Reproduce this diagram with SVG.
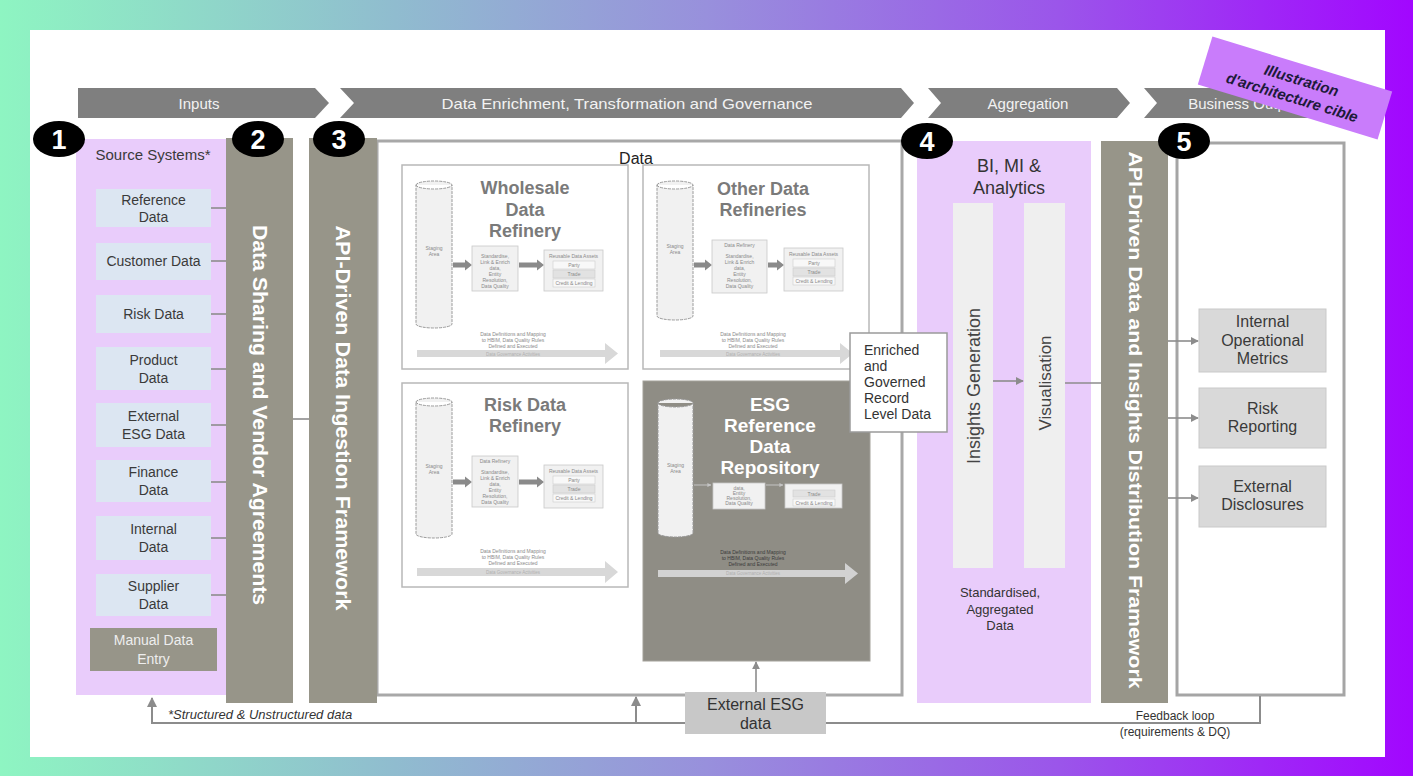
<svg xmlns="http://www.w3.org/2000/svg" width="1413" height="776" viewBox="0 0 1413 776">
<defs>
<linearGradient id="frame" x1="0" y1="0" x2="1413" y2="0" gradientUnits="userSpaceOnUse">
<stop offset="0" stop-color="#8ef5c2"/>
<stop offset="0.28" stop-color="#90bccf"/>
<stop offset="0.5" stop-color="#9890dc"/>
<stop offset="0.75" stop-color="#9b55ea"/>
<stop offset="1" stop-color="#a206ff"/>
</linearGradient>
<marker id="ah" viewBox="0 0 10 10" refX="9" refY="5" markerWidth="5" markerHeight="5" orient="auto-start-reverse" markerUnits="strokeWidth"><path d="M0,0 L10,5 L0,10 z" fill="#8c8c8c"/></marker>
<marker id="ahs" viewBox="0 0 10 10" refX="9" refY="5" markerWidth="4" markerHeight="4" orient="auto" markerUnits="strokeWidth"><path d="M0,0 L10,5 L0,10 z" fill="#c4c4c4"/></marker>
<style>
text{font-family:"Liberation Sans",Arial,Helvetica,sans-serif}
.hdr{fill:#7f7f7f}
.hdrt{fill:#f2f2f2;font-size:15px;text-anchor:middle}
.bar{fill:#979589}
.bart{fill:#ffffff;font-weight:bold;text-anchor:middle;dominant-baseline:central}
.lav{fill:#e9ccfb}
.src{fill:#dce6f2}
.srct{fill:#3a3a3a;font-size:14px;text-anchor:middle}
.num{fill:#000}
.numt{fill:#fff;font-weight:bold;font-size:27px;text-anchor:middle}
.ref{fill:#fff;stroke:#b8b8b8;stroke-width:1.5}
.reft{fill:#7a7a7a;font-weight:bold;font-size:18px;text-anchor:middle}
.cyl{fill:#f1f1f1;stroke:#9a9a9a;stroke-width:1;stroke-dasharray:3 1}
.mini{fill:#f1f1f1;stroke:#c8c8c8;stroke-width:0.8}
.row1{fill:#f8f8f8;stroke:#cccccc;stroke-width:0.6}
.row2{fill:#e2e2e2;stroke:#cccccc;stroke-width:0.6}
.tiny{fill:#8a8a8a;font-size:5px;text-anchor:middle}
.tinyd{fill:#3a3a3a;font-size:5px;text-anchor:middle}
.gov{fill:#d8d8d8}
.govt{fill:#b0b0b0;font-size:4.5px;text-anchor:middle}
.thk{fill:#8a8a8a}
.conn{stroke:#8c8c8c;stroke-width:1.6;fill:none}
.conn2{stroke:#8c8c8c;stroke-width:2;fill:none}
.body{fill:#333;font-size:14px}
.out{fill:#d9d9d9;stroke:#c9c9c9;stroke-width:1}
.outt{fill:#3a3a3a;font-size:16px;text-anchor:middle}
</style>
</defs>

<!-- frame -->
<rect x="0" y="0" width="1413" height="776" fill="url(#frame)"/>
<rect x="30" y="30" width="1355" height="727" fill="#ffffff"/>

<!-- header chevrons -->
<g id="header">
<polygon class="hdr" points="78,88 315,88 329,103 315,118 78,118"/>
<polygon class="hdr" points="340,88 901,88 914,103 901,118 340,118 354,103"/>
<polygon class="hdr" points="928,88 1117,88 1130,103 1117,118 928,118 941,103"/>
<polygon class="hdr" points="1144,88 1330,88 1343,103 1330,118 1144,118 1157,103"/>
<text class="hdrt" x="199" y="109">Inputs</text>
<text class="hdrt" x="627" y="109" textLength="371" lengthAdjust="spacingAndGlyphs">Data Enrichment, Transformation and Governance</text>
<text class="hdrt" x="1028" y="109">Aggregation</text>
<text class="hdrt" x="1247" y="109">Business Outputs</text>
</g>

<!-- section 1: source systems -->
<g id="source-systems">
<rect class="lav" x="76" y="139" width="152" height="556"/>
<text x="153" y="160" fill="#3a3a3a" font-size="15" text-anchor="middle">Source Systems*</text>
</g>
<g id="src-reference"><rect class="src" x="96" y="189" width="115" height="38"/><text class="srct" x="153.5" y="204.5">Reference</text><text class="srct" x="153.5" y="221.5">Data</text></g>
<g id="src-customer"><rect class="src" x="96" y="243" width="115" height="37"/><text class="srct" x="153.5" y="265.5" font-size="11.5">Customer Data</text></g>
<g id="src-risk"><rect class="src" x="96" y="295" width="115" height="38"/><text class="srct" x="153.5" y="319">Risk Data</text></g>
<g id="src-product"><rect class="src" x="96" y="347" width="115" height="43"/><text class="srct" x="153.5" y="365">Product</text><text class="srct" x="153.5" y="383">Data</text></g>
<g id="src-external-esg"><rect class="src" x="96" y="403" width="115" height="44"/><text class="srct" x="153.5" y="421">External</text><text class="srct" x="153.5" y="439">ESG Data</text></g>
<g id="src-finance"><rect class="src" x="96" y="460" width="115" height="42"/><text class="srct" x="153.5" y="477">Finance</text><text class="srct" x="153.5" y="495">Data</text></g>
<g id="src-internal"><rect class="src" x="96" y="516" width="115" height="44"/><text class="srct" x="153.5" y="534">Internal</text><text class="srct" x="153.5" y="552">Data</text></g>
<g id="src-supplier"><rect class="src" x="96" y="574" width="115" height="42"/><text class="srct" x="153.5" y="591">Supplier</text><text class="srct" x="153.5" y="609">Data</text></g>
<g id="src-manual"><rect class="bar" x="90" y="628" width="127" height="43"/><text class="srct" x="153.5" y="645" style="fill:#eeeeee">Manual Data</text><text class="srct" x="153.5" y="664" style="fill:#eeeeee">Entry</text></g>

<!-- section 2 bar -->
<g id="data-sharing">
<rect class="bar" x="226" y="138" width="67" height="565"/>
<text class="bart" transform="translate(260,415) rotate(90)" font-size="20" textLength="380" lengthAdjust="spacingAndGlyphs" x="0" y="0">Data Sharing and Vendor Agreements</text>
</g>

<!-- data container -->
<g id="data-container">
<rect x="377" y="141" width="525" height="554" fill="#ffffff" stroke="#a8a8a8" stroke-width="3"/>
<text x="636" y="164" fill="#222" font-size="16" text-anchor="middle">Data</text>
</g>

<!-- section 3 bar -->
<g id="ingestion">
<rect class="bar" x="309" y="138" width="68" height="565"/>
<text class="bart" transform="translate(343,418) rotate(90)" font-size="20" textLength="385" lengthAdjust="spacingAndGlyphs" x="0" y="0">API-Driven Data Ingestion Framework</text>
</g>

<!-- Wholesale -->
<g id="wholesale-refinery">
<rect class="ref" x="402" y="165" width="226" height="204"/>
<path class="cyl" d="M416,185 A18,4 0 0 1 452,185 V324 A18,4 0 0 1 416,324 Z M416,185 A18,4 0 0 0 452,185"/>
<text class="tiny" x="434" y="250">Staging</text><text class="tiny" x="434" y="256">Area</text>
<text class="reft" x="525" y="194">Wholesale</text>
<text class="reft" x="525" y="216">Data</text>
<text class="reft" x="525" y="237">Refinery</text>
<polygon class="thk" points="453,262.5 465,262.5 465,259.5 472,265 465,270.5 465,267.5 453,267.5"/>
<rect class="mini" x="472" y="246" width="46" height="45"/>
<text class="tiny" x="495" y="258">Standardise,</text><text class="tiny" x="495" y="264">Link &amp; Enrich</text><text class="tiny" x="495" y="270">data,</text><text class="tiny" x="495" y="276">Entity</text><text class="tiny" x="495" y="282">Resolution,</text><text class="tiny" x="495" y="288">Data Quality</text>
<polygon class="thk" points="519,262.5 537,262.5 537,259.5 544,265 537,270.5 537,267.5 519,267.5"/>
<rect class="mini" x="544" y="250" width="59" height="41"/>
<text class="tiny" x="573.5" y="258" font-size="4.5">Reusable Data Assets</text>
<rect class="row1" x="553" y="261" width="42" height="8"/><rect class="row2" x="553" y="270" width="42" height="8"/><rect class="row1" x="553" y="279" width="42" height="8"/>
<text class="tiny" x="574" y="267" font-size="4.5">Party</text><text class="tiny" x="574" y="276" font-size="4.5">Trade</text><text class="tiny" x="574" y="285" font-size="4.5">Credit &amp; Lending</text>
<text class="tiny" x="513" y="336">Data Definitions and Mapping</text><text class="tiny" x="513" y="342">to HBIM, Data Quality Rules</text><text class="tiny" x="513" y="348">Defined and Executed</text>
<polygon class="gov" points="417,350 605,350 605,343 618,353.5 605,364 605,357 417,357"/>
<text class="govt" x="513" y="355.5">Data Governance Activities</text>
</g>

<!-- Other -->
<g id="other-refineries">
<rect class="ref" x="643" y="165" width="226" height="204"/>
<path class="cyl" d="M657,185 A18,4 0 0 1 693,185 V316 A18,4 0 0 1 657,316 Z M657,185 A18,4 0 0 0 693,185"/>
<text class="tiny" x="675" y="248">Staging</text><text class="tiny" x="675" y="254">Area</text>
<text class="reft" x="763" y="195">Other Data</text>
<text class="reft" x="763" y="216">Refineries</text>
<polygon class="thk" points="694,262.5 705,262.5 705,259.5 712,265 705,270.5 705,267.5 694,267.5"/>
<rect class="mini" x="712" y="240" width="55" height="53"/>
<text class="tiny" x="739.5" y="247">Data Refinery</text>
<text class="tiny" x="739.5" y="258">Standardise,</text><text class="tiny" x="739.5" y="264">Link &amp; Enrich</text><text class="tiny" x="739.5" y="270">data,</text><text class="tiny" x="739.5" y="276">Entity</text><text class="tiny" x="739.5" y="282">Resolution,</text><text class="tiny" x="739.5" y="288">Data Quality</text>
<polygon class="thk" points="768,262.5 777,262.5 777,259.5 784,265 777,270.5 777,267.5 768,267.5"/>
<rect class="mini" x="784" y="248" width="59" height="43"/>
<text class="tiny" x="813.5" y="256" font-size="4.5">Reusable Data Assets</text>
<rect class="row1" x="793" y="259" width="42" height="8"/><rect class="row2" x="793" y="268" width="42" height="8"/><rect class="row1" x="793" y="277" width="42" height="8"/>
<text class="tiny" x="814" y="265" font-size="4.5">Party</text><text class="tiny" x="814" y="274" font-size="4.5">Trade</text><text class="tiny" x="814" y="283" font-size="4.5">Credit &amp; Lending</text>
<text class="tiny" x="753" y="336">Data Definitions and Mapping</text><text class="tiny" x="753" y="342">to HBIM, Data Quality Rules</text><text class="tiny" x="753" y="348">Defined and Executed</text>
<polygon class="gov" points="660,350 840,350 840,343 853,353.5 840,364 840,357 660,357"/>
<text class="govt" x="753" y="355.5">Data Governance Activities</text>
</g>

<!-- Risk -->
<g id="risk-refinery">
<rect class="ref" x="402" y="383" width="226" height="204"/>
<path class="cyl" d="M416,402 A18,4 0 0 1 452,402 V534 A18,4 0 0 1 416,534 Z M416,402 A18,4 0 0 0 452,402"/>
<text class="tiny" x="434" y="468">Staging</text><text class="tiny" x="434" y="474">Area</text>
<text class="reft" x="525" y="411">Risk Data</text>
<text class="reft" x="525" y="432">Refinery</text>
<polygon class="thk" points="453,479.5 465,479.5 465,476.5 472,482 465,487.5 465,484.5 453,484.5"/>
<rect class="mini" x="472" y="456" width="46" height="51"/>
<text class="tiny" x="495" y="463">Data Refinery</text>
<text class="tiny" x="495" y="474">Standardise,</text><text class="tiny" x="495" y="480">Link &amp; Enrich</text><text class="tiny" x="495" y="486">data,</text><text class="tiny" x="495" y="492">Entity</text><text class="tiny" x="495" y="498">Resolution,</text><text class="tiny" x="495" y="504">Data Quality</text>
<polygon class="thk" points="519,479.5 537,479.5 537,476.5 544,482 537,487.5 537,484.5 519,484.5"/>
<rect class="mini" x="544" y="465" width="59" height="43"/>
<text class="tiny" x="573.5" y="473" font-size="4.5">Reusable Data Assets</text>
<rect class="row1" x="553" y="476" width="42" height="8"/><rect class="row2" x="553" y="485" width="42" height="8"/><rect class="row1" x="553" y="494" width="42" height="8"/>
<text class="tiny" x="574" y="482" font-size="4.5">Party</text><text class="tiny" x="574" y="491" font-size="4.5">Trade</text><text class="tiny" x="574" y="500" font-size="4.5">Credit &amp; Lending</text>
<text class="tiny" x="513" y="553">Data Definitions and Mapping</text><text class="tiny" x="513" y="559">to HBIM, Data Quality Rules</text><text class="tiny" x="513" y="565">Defined and Executed</text>
<polygon class="gov" points="417,568 605,568 605,561 618,572 605,583 605,576 417,576"/>
<text class="govt" x="513" y="573.5">Data Governance Activities</text>
</g>

<!-- ESG -->
<g id="esg-repository">
<rect x="643" y="381" width="227" height="280" fill="#8f8d85" stroke="#a3a19a" stroke-width="1"/>
<path class="cyl" d="M658,403 A17.5,4 0 0 1 693,403 V533 A17.5,4 0 0 1 658,533 Z M658,403 A17.5,4 0 0 0 693,403"/>
<text class="tiny" x="675.5" y="467">Staging</text><text class="tiny" x="675.5" y="473">Area</text>
<line x1="694" y1="485" x2="711" y2="485" stroke="#c4c4c4" stroke-width="1" marker-end="url(#ahs)"/>
<rect class="mini" x="713" y="483" width="52" height="26"/>
<text class="tiny" x="739" y="490" font-size="4.5">data,</text><text class="tiny" x="739" y="495" font-size="4.5">Entity</text><text class="tiny" x="739" y="500" font-size="4.5">Resolution,</text><text class="tiny" x="739" y="505" font-size="4.5">Data Quality</text>
<line x1="766" y1="485" x2="783" y2="485" stroke="#c4c4c4" stroke-width="1" marker-end="url(#ahs)"/>
<rect class="mini" x="785" y="484" width="57" height="24"/>
<rect class="row2" x="793" y="490" width="42" height="7"/><rect class="row1" x="793" y="499" width="42" height="7"/>
<text class="tiny" x="814" y="495.5" font-size="4.5">Trade</text><text class="tiny" x="814" y="504.5" font-size="4.5">Credit &amp; Lending</text>
<text x="770" y="411" fill="#ffffff" font-size="19" font-weight="bold" text-anchor="middle">ESG</text>
<text x="770" y="432" fill="#ffffff" font-size="19" font-weight="bold" text-anchor="middle">Reference</text>
<text x="770" y="453" fill="#ffffff" font-size="19" font-weight="bold" text-anchor="middle">Data</text>
<text x="770" y="474" fill="#ffffff" font-size="19" font-weight="bold" text-anchor="middle">Repository</text>
<text class="tinyd" x="753" y="554">Data Definitions and Mapping</text><text class="tinyd" x="753" y="560">to HBIM, Data Quality Rules</text><text class="tinyd" x="753" y="566">Defined and Executed</text>
<polygon fill="#d2d2d2" points="658,570 845,570 845,563 858,573.5 845,584 845,577 658,577"/>
<text class="govt" x="753" y="575">Data Governance Activities</text>
</g>

<!-- section 4 -->
<g id="bi-analytics">
<rect class="lav" x="917" y="141" width="174" height="562"/>
<text x="1009" y="172" fill="#333" font-size="18" text-anchor="middle">BI, MI &amp;</text>
<text x="1009" y="194" fill="#333" font-size="18" text-anchor="middle">Analytics</text>
<text x="1000" y="597" fill="#333" font-size="13" text-anchor="middle">Standardised,</text>
<text x="1000" y="614" fill="#333" font-size="13" text-anchor="middle">Aggregated</text>
<text x="1000" y="630" fill="#333" font-size="13" text-anchor="middle">Data</text>
</g>
<g id="insights-generation">
<rect x="953" y="203" width="40" height="365" fill="#efefef"/>
<text transform="translate(974,386) rotate(-90)" x="0" y="0" fill="#444" font-size="18" text-anchor="middle" dominant-baseline="central">Insights Generation</text>
</g>
<g id="visualisation">
<rect x="1024" y="203" width="41" height="365" fill="#efefef"/>
<text transform="translate(1045,383) rotate(-90)" x="0" y="0" fill="#444" font-size="17" text-anchor="middle" dominant-baseline="central">Visualisation</text>
</g>

<!-- Enriched label (overlaps container and section 4) -->
<g id="enriched-data">
<rect x="850" y="333" width="97" height="99" fill="#ffffff" stroke="#9a9a9a" stroke-width="1.5"/>
<text class="body" x="864" y="355">Enriched</text>
<text class="body" x="864" y="371">and</text>
<text class="body" x="864" y="387">Governed</text>
<text class="body" x="864" y="403">Record</text>
<text class="body" x="864" y="419">Level Data</text>
</g>

<!-- section 5 bar -->
<g id="distribution">
<rect class="bar" x="1101" y="141" width="67" height="562"/>
<text class="bart" transform="translate(1135,420) rotate(90)" font-size="19" textLength="537" lengthAdjust="spacingAndGlyphs" x="0" y="0">API-Driven Data and Insights Distribution Framework</text>
</g>

<g id="business-outputs">
<rect x="1177" y="143" width="167" height="552" fill="#ffffff" stroke="#a5a5a5" stroke-width="3"/>
</g>
<g id="out-internal"><rect class="out" x="1199" y="309" width="127" height="63"/><text class="outt" x="1262.5" y="327">Internal</text><text class="outt" x="1262.5" y="346">Operational</text><text class="outt" x="1262.5" y="364">Metrics</text></g>
<g id="out-risk"><rect class="out" x="1199" y="388" width="127" height="60"/><text class="outt" x="1262.5" y="414">Risk</text><text class="outt" x="1262.5" y="432">Reporting</text></g>
<g id="out-external"><rect class="out" x="1199" y="466" width="127" height="61"/><text class="outt" x="1262.5" y="492">External</text><text class="outt" x="1262.5" y="510">Disclosures</text></g>

<!-- connectors -->
<g id="connectors">
<line class="conn" x1="211" y1="208" x2="226" y2="208"/>
<line class="conn" x1="211" y1="261" x2="226" y2="261"/>
<line class="conn" x1="211" y1="314" x2="226" y2="314"/>
<line class="conn" x1="211" y1="369" x2="226" y2="369"/>
<line class="conn" x1="211" y1="425" x2="226" y2="425"/>
<line class="conn" x1="211" y1="482" x2="226" y2="482"/>
<line class="conn" x1="211" y1="538" x2="226" y2="538"/>
<line class="conn" x1="211" y1="595" x2="226" y2="595"/>
<line class="conn" x1="293" y1="419" x2="309" y2="419"/>
<line class="conn" x1="993" y1="381" x2="1023" y2="381" marker-end="url(#ah)"/>
<line class="conn" x1="1065" y1="383" x2="1101" y2="383"/>
<line class="conn" x1="1168" y1="341" x2="1198" y2="341" marker-end="url(#ah)"/>
<line class="conn" x1="1168" y1="418" x2="1198" y2="418" marker-end="url(#ah)"/>
<line class="conn" x1="1168" y1="498" x2="1198" y2="498" marker-end="url(#ah)"/>
<line class="conn" x1="756" y1="692" x2="756" y2="662" marker-end="url(#ah)"/>
<path class="conn2" d="M1260,696 V723 H152 V698" marker-end="url(#ah)"/>
<line class="conn2" x1="636" y1="723" x2="636" y2="697" marker-end="url(#ah)"/>
</g>

<g id="external-esg-data">
<rect x="685" y="692" width="141" height="42" fill="#c8c8c8"/>
<text x="755.5" y="710" fill="#333" font-size="16" text-anchor="middle">External ESG</text>
<text x="755.5" y="729" fill="#333" font-size="16" text-anchor="middle">data</text>
</g>

<text x="168" y="719" fill="#333" font-size="13" font-style="italic">*Structured &amp; Unstructured data</text>
<text x="1175" y="720" fill="#333" font-size="12" text-anchor="middle">Feedback loop</text>
<text x="1175" y="736" fill="#333" font-size="12" text-anchor="middle">(requirements &amp; DQ)</text>

<!-- number badges -->
<g id="badge-1"><ellipse class="num" cx="59" cy="139" rx="26" ry="18"/><text class="numt" x="59" y="149">1</text></g>
<g id="badge-2"><ellipse class="num" cx="258" cy="139" rx="26" ry="18"/><text class="numt" x="258" y="149">2</text></g>
<g id="badge-3"><ellipse class="num" cx="339" cy="139" rx="26" ry="18"/><text class="numt" x="339" y="149">3</text></g>
<g id="badge-4"><ellipse class="num" cx="927" cy="141" rx="26" ry="18"/><text class="numt" x="927" y="151">4</text></g>
<g id="badge-5"><ellipse class="num" cx="1184" cy="141" rx="26" ry="18"/><text class="numt" x="1184" y="151">5</text></g>

<!-- illustration label -->
<g id="illustration-label" transform="translate(1295,88) rotate(17)">
<rect x="-94" y="-25" width="188" height="50" fill="#c97cfb"/>
<text x="4" y="-4" fill="#1d1a3a" font-size="15" font-weight="bold" font-style="italic" text-anchor="middle">Illustration</text>
<text x="0" y="15" fill="#1d1a3a" font-size="15" font-weight="bold" font-style="italic" text-anchor="middle">d'architecture cible</text>
</g>
</svg>
